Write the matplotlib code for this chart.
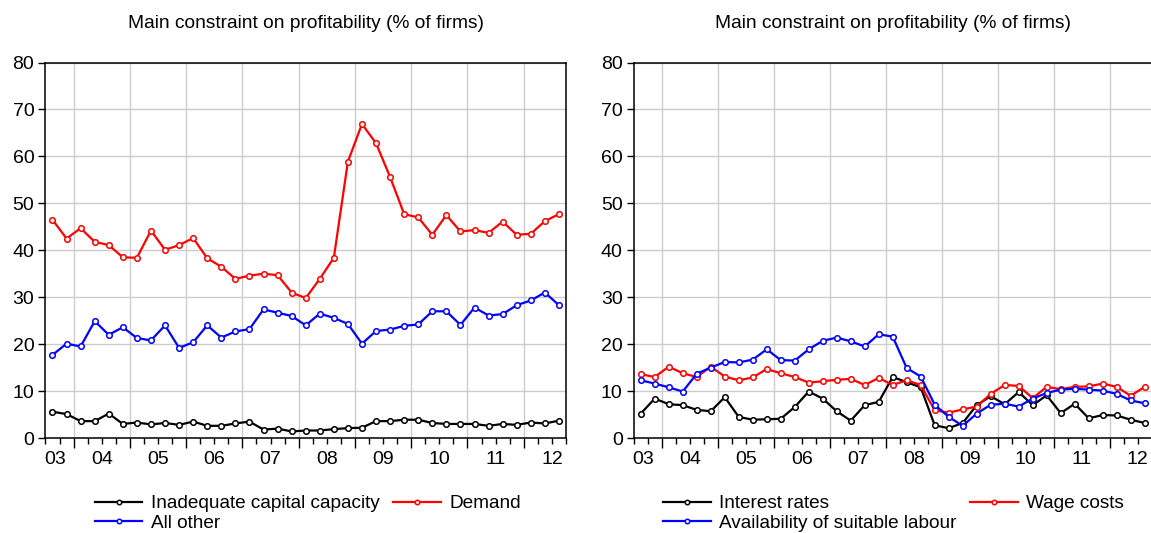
import numpy as np
import matplotlib
matplotlib.use('Agg')
import matplotlib.pyplot as plt
import matplotlib.transforms as mtransforms

plt.rcParams['font.family'] = ['Liberation Sans', 'DejaVu Sans']

# quarterly observations, 2003Q3 .. 2012Q3
years = ['03', '04', '05', '06', '07', '08', '09', '10', '11', '12']

# left panel
capital_capacity = [5.6, 5.1, 3.6, 3.6, 5.2, 3.0, 3.3, 2.9, 3.2, 2.8, 3.5, 2.6, 2.6,
                    3.1, 3.5, 1.8, 2.0, 1.4, 1.6, 1.6, 1.9, 2.1, 2.2, 3.6, 3.6, 3.9,
                    3.9, 3.2, 3.0, 3.0, 3.0, 2.6, 3.0, 2.8, 3.3, 3.1, 3.7]
demand = [46.5, 42.5, 44.7, 41.8, 41.1, 38.5, 38.4, 44.2, 40.1, 41.1, 42.6, 38.3, 36.5,
          33.9, 34.6, 35.0, 34.7, 31.0, 29.8, 33.9, 38.4, 58.9, 66.9, 62.8, 55.6, 47.7,
          47.0, 43.3, 47.5, 44.0, 44.3, 43.7, 46.1, 43.3, 43.5, 46.2, 47.7]
all_other = [17.7, 20.1, 19.5, 24.9, 22.0, 23.6, 21.3, 20.8, 24.0, 19.2, 20.4, 24.0, 21.4,
             22.7, 23.2, 27.4, 26.7, 26.0, 24.0, 26.5, 25.6, 24.3, 20.1, 22.8, 23.1, 23.9,
             24.2, 27.0, 27.0, 24.1, 27.8, 26.1, 26.4, 28.3, 29.3, 31.0, 28.3]

# right panel
interest_rates = [5.2, 8.4, 7.2, 7.0, 6.0, 5.7, 8.7, 4.5, 3.9, 4.0, 4.1, 6.6, 9.9,
                  8.4, 5.7, 3.7, 7.0, 7.7, 13.0, 11.9, 10.8, 2.7, 2.1, 3.2, 7.0, 8.9,
                  7.2, 9.8, 7.0, 9.1, 5.3, 7.3, 4.2, 4.9, 4.8, 3.9, 3.2]
wage_costs = [13.6, 13.0, 15.2, 13.8, 13.0, 15.2, 13.1, 12.3, 12.9, 14.7, 13.8, 13.0, 11.8,
              12.1, 12.4, 12.6, 11.3, 12.8, 11.3, 12.3, 11.3, 5.9, 5.4, 6.1, 6.7, 9.4,
              11.3, 11.1, 8.5, 10.9, 10.4, 10.9, 11.0, 11.6, 10.9, 9.0, 10.9]
suitable_labour = [12.3, 11.6, 10.8, 9.9, 13.7, 15.0, 16.2, 16.1, 16.7, 18.9, 16.6, 16.5, 18.9,
                   20.7, 21.4, 20.6, 19.5, 22.1, 21.6, 14.9, 13.1, 7.1, 4.5, 2.6, 5.2, 7.1,
                   7.3, 6.7, 8.4, 9.6, 10.3, 10.5, 10.3, 10.1, 9.4, 8.0, 7.4]

title = 'Main constraint on profitability (% of firms)'

fig = plt.figure(figsize=(11.51, 5.33), dpi=100)
ax1 = fig.add_axes([0.0395, 0.1782, 0.4522, 0.7045])
ax2 = fig.add_axes([0.5506, 0.1782, 0.4500, 0.7045])

x = np.arange(len(demand))


def draw(ax, series):
    for vals, color, label in series:
        ax.plot(x, vals, color=color, lw=1.6, marker='o', ms=4, mfc='white',
                mec=color, mew=1.1, label=label)
    ax.set_xlim(-0.5, len(x) - 0.5)
    ax.set_ylim(0, 80)
    ax.set_yticks(range(0, 81, 10))
    # year boundaries as major ticks, quarters as minor ticks
    ax.set_xticks(np.arange(1.5, len(x) - 0.5, 4))
    ax.set_xticks(np.arange(-0.5, len(x), 1), minor=True)
    ax.set_xticklabels([])
    ax.tick_params(axis='x', which='major', length=7, width=1, direction='out')
    ax.tick_params(axis='x', which='minor', length=4, width=1, direction='out')
    ax.tick_params(axis='y', length=5, width=1, direction='out', labelsize=14, pad=3)
    ax.grid(True, which='major', color='#cccccc', lw=1)
    ax.set_axisbelow(True)
    for s in ax.spines.values():
        s.set_linewidth(1.1)
    trans = mtransforms.blended_transform_factory(ax.transData, ax.transAxes)
    for i, yr in enumerate(years):
        xpos = 4 * i - 0.5
        if i == 0:
            xpos = 0.2
        ax.text(xpos, -0.058, yr, transform=trans, ha='center', va='center',
                fontsize=14)
    ax.set_title(title, fontsize=13.8, pad=25)


draw(ax1, [(capital_capacity, 'black', 'Inadequate capital capacity'),
           (demand, '#ff0000', 'Demand'),
           (all_other, '#0000ff', 'All other')])
draw(ax2, [(interest_rates, 'black', 'Interest rates'),
           (wage_costs, '#ff0000', 'Wage costs'),
           (suitable_labour, '#0000ff', 'Availability of suitable labour')])

for ax, xa in [(ax1, 0.095), (ax2, 0.0566)]:
    h, l = ax.get_legend_handles_labels()
    order = [0, 2, 1]
    leg = ax.legend([h[i] for i in order], [l[i] for i in order], ncol=2,
                    loc='upper left', bbox_to_anchor=(xa, -0.152), frameon=False,
                    borderpad=0, borderaxespad=0, fontsize=13.7, handlelength=2.5,
                    handletextpad=0.45, labelspacing=0.1, columnspacing=0.7,
                    markerscale=0.8)

fig.savefig('out.png', dpi=100)
